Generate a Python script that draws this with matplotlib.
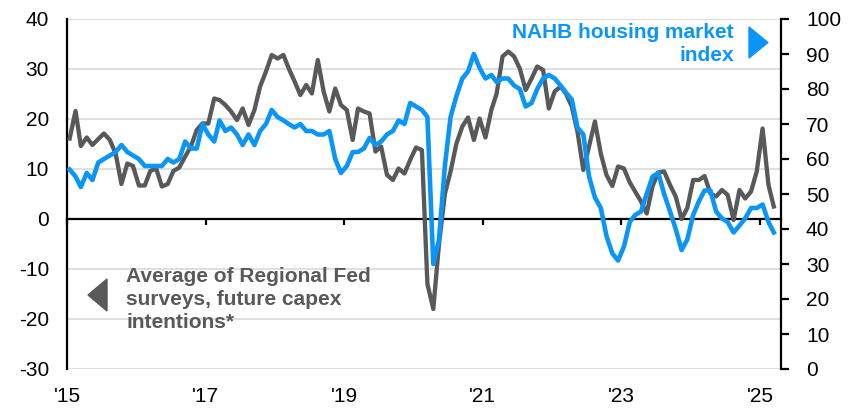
import matplotlib
matplotlib.use("Agg")
import matplotlib.pyplot as plt
from matplotlib.patches import Polygon
import pandas as pd

plt.rcParams["font.family"] = ["Liberation Sans", "DejaVu Sans"]

# Monthly observations, Jan 2015 - Mar 2025 (plotted mid-month)
months = pd.date_range("2015-01-01", "2025-03-01", freq="MS") + pd.Timedelta(days=14)

# Average of Regional Fed surveys, future capex intentions (left axis)
capex = [
    16.1, 21.6, 14.6, 16.3, 14.8, 16.0, 17.1, 15.8, 13.0, 7.0, 11.1, 10.6,
    6.7, 6.7, 9.6, 10.1, 6.5, 7.0, 9.6, 10.3, 12.5, 14.5, 17.8, 19.1,
    19.1, 24.1, 23.8, 22.8, 21.5, 19.8, 22.1, 18.8, 21.8, 26.5, 29.5, 32.8,
    32.1, 32.8, 30.1, 27.5, 24.8, 26.8, 25.1, 31.8, 25.5, 21.5, 26.1, 22.8,
    21.8, 15.8, 22.1, 21.5, 21.1, 13.5, 14.5, 8.8, 7.8, 10.1, 9.1, 11.8,
    14.3, 13.8, -13.0, -18.0, -5.0, 5.0, 9.5, 15.1, 18.5, 20.3, 15.8, 20.1,
    16.3, 21.8, 25.1, 32.5, 33.5, 32.5, 30.1, 25.8, 28.1, 30.5, 29.8, 22.1,
    25.5, 26.5, 25.1, 22.5, 17.5, 9.8, 14.5, 19.5, 13.1, 8.8, 6.6, 10.5,
    10.1, 7.3, 5.5, 3.5, 1.1, 6.6, 9.3, 9.5, 6.8, 4.5, 0.0, 2.2,
    7.8, 7.8, 8.6, 5.1, 4.5, 5.8, 4.8, -0.2, 5.8, 4.1, 5.5, 9.5,
    18.1, 6.8, 2.5,
]

# NAHB housing market index (right axis)
nahb = [
    57, 55, 52, 56, 54, 59, 60, 61, 62, 64, 62, 61,
    60, 58, 58, 58, 58, 60, 59, 60, 65, 63, 63, 70,
    67, 65, 71, 68, 69, 67, 64, 67, 64, 68, 70, 74,
    72, 71, 70, 69, 70, 68, 68, 67, 67, 68, 60, 56,
    58, 62, 62, 63, 66, 64, 65, 67, 68, 71, 70, 76,
    75, 74, 72, 30, 37, 58, 72, 78, 83, 85, 90, 86,
    83, 84, 82, 83, 83, 81, 80, 75, 76, 80, 83, 84,
    83, 81, 79, 77, 69, 67, 55, 49, 46, 38, 33, 31,
    35, 42, 44, 45, 50, 55, 56, 50, 45, 40, 34, 37,
    44, 48, 51, 51, 45, 43, 42, 39, 41, 43, 46, 46,
    47, 42, 39,
]

year_ticks = pd.to_datetime(["2015-01-01", "2017-01-01", "2019-01-01",
                             "2021-01-01", "2023-01-01", "2025-01-01"])
year_labels = ["'15", "'17", "'19", "'21", "'23", "'25"]
left_ticks = [-30, -20, -10, 0, 10, 20, 30, 40]
right_ticks = [0, 10, 20, 30, 40, 50, 60, 70, 80, 90, 100]

GREY = "#58595B"
BLUE = "#0A96F8"
FS = 15

W, H = 864, 409
fig = plt.figure(figsize=(W / 100, H / 100), dpi=100)
ax = fig.add_axes([67 / W, 1 - 369 / H, (781 - 67) / W, (369 - 19) / H])
ax2 = ax.twinx()

ax.plot(months, capex, color=GREY, lw=3.1, solid_joinstyle="round", zorder=3)
ax2.plot(months, nahb, color=BLUE, lw=3.3, solid_joinstyle="round", zorder=3)

ax.set_ylim(-30, 40)
ax2.set_ylim(0, 100)
ax.set_xlim(pd.Timestamp("2015-01-01"), pd.Timestamp("2025-04-22"))

ax.set_yticks(left_ticks)
ax.set_yticklabels([str(t) for t in left_ticks])
ax2.set_yticks(right_ticks)
ax2.set_yticklabels([str(t) for t in right_ticks])
ax.set_xticks(year_ticks)
ax.set_xticklabels(year_labels)

ax.yaxis.grid(True, color="#D9D9D9", lw=1.2)
ax.set_axisbelow(True)

for a in (ax, ax2):
    a.spines["top"].set_visible(False)
    a.patch.set_visible(False)
ax.spines["right"].set_visible(False)
ax2.spines["left"].set_visible(False)
ax2.spines["bottom"].set_visible(False)
ax.spines["left"].set_linewidth(1.6)
ax2.spines["right"].set_linewidth(1.6)
ax.spines["bottom"].set_position(("data", 0))
ax.spines["bottom"].set_linewidth(1.6)
ax.spines["bottom"].set_zorder(2)

ax.tick_params(axis="y", length=0, pad=13, labelsize=FS, colors="black")
ax.tick_params(axis="x", direction="out", length=4, width=1.6, pad=117,
               labelsize=FS)
ax2.tick_params(axis="y", direction="out", length=6, width=1.6, pad=12,
                labelsize=FS)

# Series labels with pointer triangles
fig.text(734 / W, 1 - 44 / H, "NAHB housing market\nindex", color=BLUE,
         fontsize=FS, fontweight="bold", ha="right", va="center",
         multialignment="right", linespacing=1.3)
fig.patches.append(Polygon([(749 / W, 1 - 27 / H), (749 / W, 1 - 58 / H),
                            (768 / W, 1 - 42.5 / H)], closed=True,
                           transform=fig.transFigure, color=BLUE))

fig.text(126 / W, 1 - 299.5 / H,
         "Average of Regional Fed\nsurveys, future capex\nintentions*",
         color="#595959", fontsize=FS, fontweight="bold", ha="left",
         va="center", multialignment="left", linespacing=1.3)
fig.patches.append(Polygon([(107 / W, 1 - 279 / H), (107 / W, 1 - 311 / H),
                            (88 / W, 1 - 295 / H)], closed=True,
                           transform=fig.transFigure, color="#595959"))

fig.savefig("out.png", dpi=100)
